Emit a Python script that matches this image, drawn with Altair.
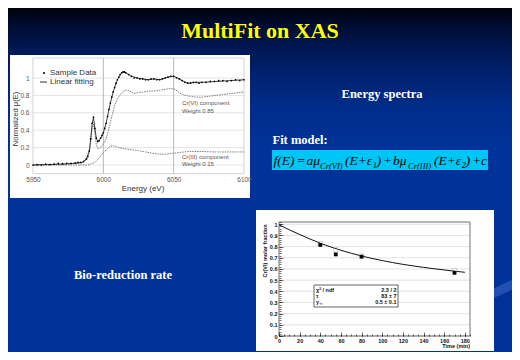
import altair as alt
import pandas as pd

OFF = 8
W, H = 504, 344


def px(v):
    return v - OFF


# ---------------- data: XAS energy spectra ----------------
xas_sample_E = [5950, 5953, 5956, 5959, 5962, 5965, 5968, 5971, 5974, 5977, 5980, 5982, 5984, 5986,
                5988, 5989, 5990, 5991, 5992, 5993, 5994, 5995, 5996, 5997, 5998, 5999, 6000, 6001,
                6002, 6003, 6004, 6005, 6006, 6007, 6008, 6009, 6010, 6011, 6012, 6013, 6014, 6015,
                6016, 6018, 6020, 6022, 6024, 6026, 6028, 6030, 6032, 6034, 6036, 6038, 6040, 6042,
                6044, 6046, 6048, 6050, 6052, 6054, 6056, 6058, 6060, 6062, 6064, 6066, 6068, 6070,
                6073, 6076, 6079, 6082, 6085, 6088, 6091, 6094, 6097, 6100]
xas_sample_mu = [0.0, 0.005, 0.0, 0.01, 0.005, 0.01, 0.02, 0.015, 0.02, 0.02, 0.025, 0.03, 0.03, 0.04,
                 0.07, 0.10, 0.16, 0.30, 0.48, 0.55, 0.42, 0.31, 0.27, 0.28, 0.31, 0.34, 0.37, 0.42,
                 0.48, 0.56, 0.64, 0.71, 0.78, 0.84, 0.89, 0.94, 0.98, 1.01, 1.04, 1.06, 1.07, 1.07,
                 1.06, 1.04, 1.02, 1.00, 1.00, 0.99, 0.99, 0.98, 0.98, 0.99, 0.99, 0.98, 0.98, 0.99,
                 1.00, 1.01, 1.02, 1.02, 1.00, 0.99, 0.97, 0.95, 0.94, 0.94, 0.95, 0.95, 0.94, 0.95,
                 0.95, 0.96, 0.96, 0.97, 0.97, 0.96, 0.97, 0.98, 0.97, 0.98]

xas_fit_E = [5950, 5960, 5970, 5980, 5985, 5988, 5990, 5991, 5992, 5993, 5994, 5995, 5996, 5998,
             6000, 6002, 6004, 6006, 6008, 6010, 6012, 6014, 6016, 6018, 6020, 6024, 6028, 6032,
             6036, 6040, 6044, 6048, 6050, 6053, 6056, 6060, 6065, 6070, 6080, 6090, 6100]
xas_fit_mu = [0.0, 0.005, 0.01, 0.02, 0.03, 0.07, 0.16, 0.30, 0.47, 0.54, 0.42, 0.31, 0.27, 0.30,
              0.37, 0.48, 0.64, 0.78, 0.89, 0.98, 1.04, 1.07, 1.06, 1.04, 1.02, 1.00, 0.99, 0.98,
              0.99, 0.98, 1.00, 1.02, 1.02, 1.00, 0.97, 0.94, 0.95, 0.95, 0.96, 0.97, 0.98]

xas_cr6_E = [5950, 5970, 5980, 5985, 5988, 5990, 5991, 5992, 5993, 5994, 5995, 5996, 5997, 5998,
             6000, 6002, 6004, 6006, 6008, 6010, 6012, 6014, 6016, 6018, 6020, 6022, 6024, 6028,
             6032, 6036, 6040, 6044, 6048, 6051, 6054, 6058, 6062, 6066, 6070, 6075, 6080, 6085,
             6090, 6095, 6100]
xas_cr6_mu = [0.0, 0.005, 0.015, 0.03, 0.06, 0.14, 0.26, 0.42, 0.47, 0.36, 0.24, 0.19, 0.19, 0.20,
              0.24, 0.30, 0.42, 0.56, 0.68, 0.76, 0.81, 0.84, 0.86, 0.86, 0.84, 0.82, 0.83, 0.84,
              0.85, 0.85, 0.86, 0.87, 0.88, 0.87, 0.83, 0.80, 0.79, 0.78, 0.78, 0.79, 0.80, 0.81,
              0.82, 0.83, 0.84]

xas_cr3_E = [5950, 5970, 5988, 5991, 5994, 5997, 6000, 6003, 6005, 6007, 6010, 6014, 6020, 6025,
             6030, 6035, 6040, 6045, 6050, 6055, 6060, 6070, 6080, 6090, 6100]
xas_cr3_mu = [0.0, 0.0, 0.0, 0.01, 0.03, 0.08, 0.14, 0.19, 0.215, 0.22, 0.205, 0.19, 0.175, 0.165,
              0.15, 0.135, 0.125, 0.125, 0.135, 0.145, 0.155, 0.155, 0.15, 0.15, 0.15]

xas_xticks = [5950, 6000, 6050, 6100]
xas_yticks = [0, 0.2, 0.4, 0.6, 0.8, 1]
xas_vgrid = [6000, 6050]

# ---------------- data: bio-reduction rate ----------------
bio_time = [40, 55, 80, 170]
bio_frac = [0.815, 0.73, 0.71, 0.565]
bio_frac_ref = [0.825, 0.77, 0.715, 0.585]
fit_time = [0, 10, 20, 30, 40, 50, 60, 70, 80, 90, 100, 110, 120, 130, 140, 150, 160, 170, 180]
fit_frac = [0.995, 0.950, 0.908, 0.868, 0.830, 0.797, 0.767, 0.740, 0.716, 0.694, 0.675, 0.657,
            0.641, 0.627, 0.614, 0.602, 0.591, 0.580, 0.570]
bio_xticks = [0, 20, 40, 60, 80, 100, 120, 140, 160, 180]
bio_yticks = [0, 0.1, 0.2, 0.3, 0.4, 0.5, 0.6, 0.7, 0.8, 0.9, 1]
bio_xminor = list(range(0, 186, 5))
bio_yminor = [round(i * 0.02, 2) for i in range(52)]

one = pd.DataFrame({"k": [0]})


def text(t, x, y, size, color="white", font="Liberation Serif", weight="normal",
         style="normal", align="left", baseline="middle", angle=0):
    return alt.Chart(one).mark_text(
        text=t, fontSize=size, color=color, font=font, fontWeight=weight,
        fontStyle=style, align=align, baseline=baseline, angle=angle
    ).encode(x=alt.value(px(x)), y=alt.value(px(y)))


def box(x1, y1, x2, y2, fill, stroke="", sw=0.0):
    kw = dict(fill=fill)
    if stroke:
        kw.update(stroke=stroke, strokeWidth=sw)
    return alt.Chart(one).mark_rect(**kw).encode(
        x=alt.value(px(x1)), x2=alt.value(px(x2)), y=alt.value(px(y1)), y2=alt.value(px(y2)))


def ax(orient, offset, values, labels=True, tick_size=0, **kw):
    d = dict(orient=orient, offset=offset, values=values, grid=False, domain=False,
             title="", labels=labels, labelOverlap=False, labelFlush=False, zindex=2)
    if tick_size > 0:
        d.update(ticks=True, tickSize=tick_size, tickColor="#111", tickWidth=0.6)
    else:
        d.update(ticks=False, tickSize=0)
    d.update(kw)
    return alt.Axis(**d)


layers = []

# ---------------- slide background ----------------
def stop(refy, color):
    return alt.GradientStop(offset=max(0.0, (refy - OFF) / H), color=color)

grad = alt.Gradient(gradient="linear", x1=0, y1=0, x2=0, y2=1, stops=[
    stop(8, "#00000a"), stop(22, "#000b2c"), stop(45, "#001650"),
    stop(75, "#00226f"), stop(110, "#002d8c"), stop(150, "#003399"), stop(352, "#003399")])
layers.append(alt.Chart(one).mark_rect(fill=grad).encode(
    x=alt.value(0), x2=alt.value(W), y=alt.value(0), y2=alt.value(H)))

# decorative light swoosh at the right edge
layers.append(alt.Chart(one).mark_rule(color="#2a57b8", strokeWidth=9, opacity=0.8, strokeCap="butt").encode(
    x=alt.value(px(492)), x2=alt.value(px(516)), y=alt.value(px(294)), y2=alt.value(px(283))))

# titles and captions
layers.append(text("MultiFit on XAS", 260, 31, 22, color="#ffff00", weight="bold", align="center"))
layers.append(text("Energy spectra", 382, 94, 12.5, weight="bold", align="center"))
layers.append(text("Fit model:", 272.5, 140, 12.5, weight="bold"))
layers.append(text("Bio-reduction rate", 123, 275, 12.5, weight="bold", align="center"))

# formula box
layers.append(box(272, 150, 488, 170, "#00c6f6"))
main_y, sub_y = 164.5, 168.5
formula = [("f(E)", 273.5, 0), ("=", 296.5, 0), ("aμ", 306.5, 0), ("Cr(VI)", 320, 1),
           ("(E+ε₁)", 345, 0), ("+", 383, 0), ("bμ", 393, 0), ("Cr(III)", 408, 1),
           ("(E+ε₂)", 434, 0), ("+c", 472, 0)]
for s, x, sub in formula:
    layers.append(text(s, x, sub_y if sub else main_y, 8.5 if sub else 13.5, color="#000",
                       style="italic", baseline="alphabetic"))

# ---------------- XAS panel ----------------
layers.append(box(10, 55, 250, 198, "white"))
xas_x = alt.Scale(domain=[5950, 6100], range=[px(33), px(244)], nice=False, zero=False)
xas_y = alt.Scale(domain=[-0.1, 1.23], range=[px(173.7), px(58)], nice=False, zero=False)
lab = dict(labelFont="Liberation Sans", labelFontSize=6.5, labelColor="#555")

layers.append(alt.Chart(pd.DataFrame({"v": xas_yticks})).mark_rule(color="#dadada", strokeWidth=0.7).encode(
    y=alt.Y("v:Q", scale=xas_y, axis=ax("left", -px(33), xas_yticks, labelExpr="'' + datum.value",
                                         labelPadding=4, **lab)),
    x=alt.XDatum(5950, type="quantitative", scale=xas_x,
                 axis=ax("bottom", px(173.7) - H, xas_xticks, format="d", labelPadding=3, **lab)),
    x2=alt.datum(6100)))
layers.append(alt.Chart(pd.DataFrame({"v": xas_vgrid})).mark_rule(color="#9a9a9a", strokeWidth=0.7).encode(
    x=alt.X("v:Q", scale=xas_x, axis=None),
    y=alt.YDatum(-0.1, type="quantitative", scale=xas_y, axis=None), y2=alt.datum(1.23)))
layers.append(alt.Chart(one).mark_rect(fillOpacity=0, stroke="#c8c8c8", strokeWidth=0.8).encode(
    x=alt.XDatum(5950, type="quantitative", scale=xas_x, axis=None), x2=alt.datum(6100),
    y=alt.YDatum(-0.1, type="quantitative", scale=xas_y, axis=None), y2=alt.datum(1.23)))


def xas_line(E, mu, color, width, dash=None):
    kw = dict(color=color, strokeWidth=width)
    if dash:
        kw["strokeDash"] = dash
    return alt.Chart(pd.DataFrame({"E": E, "mu": mu})).mark_line(**kw).encode(
        x=alt.X("E:Q", scale=xas_x, axis=None), y=alt.Y("mu:Q", scale=xas_y, axis=None))


layers.append(xas_line(xas_cr3_E, xas_cr3_mu, "#707070", 0.9, [1.5, 1]))
layers.append(xas_line(xas_cr6_E, xas_cr6_mu, "#707070", 0.9, [1.5, 1]))
layers.append(xas_line(xas_fit_E, xas_fit_mu, "#2a2a2a", 0.9))
layers.append(alt.Chart(pd.DataFrame({"E": xas_sample_E, "mu": xas_sample_mu})).mark_circle(
    size=3, color="#000", opacity=1).encode(
    x=alt.X("E:Q", scale=xas_x, axis=None), y=alt.Y("mu:Q", scale=xas_y, axis=None)))

# XAS legend, annotations, titles
layers.append(alt.Chart(one).mark_circle(size=4, color="#000", opacity=1).encode(
    x=alt.value(px(44)), y=alt.value(px(73))))
layers.append(alt.Chart(one).mark_rule(color="#333", strokeWidth=1).encode(
    x=alt.value(px(40)), x2=alt.value(px(47)), y=alt.value(px(82))))
layers.append(text("Sample Data", 50, 73, 8, color="#333", font="Liberation Sans"))
layers.append(text("Linear fitting", 50, 82, 8, color="#333", font="Liberation Sans"))
layers.append(text("Cr(VI) component", 182, 103, 6, color="#555", font="Liberation Sans"))
layers.append(text("Weight 0.85", 182, 111, 6, color="#555", font="Liberation Sans"))
layers.append(text("Cr(III) component", 182, 157, 6, color="#555", font="Liberation Sans"))
layers.append(text("Weight 0.15", 182, 164, 6, color="#555", font="Liberation Sans"))
layers.append(text("Energy (eV)", 143, 189, 8, color="#333", font="Liberation Sans", align="center"))
layers.append(text("Normalized μ(E)", 16, 119, 7.5, color="#333", font="Liberation Sans",
                   align="center", angle=270))

# ---------------- bio-reduction panel ----------------
layers.append(box(256, 210, 494, 351, "white"))
bio_x = alt.Scale(domain=[0, 185], range=[px(279), px(470)], nice=False, zero=False)
bio_y = alt.Scale(domain=[0, 1.02], range=[px(336), px(222)], nice=False, zero=False)
blab = dict(labelFont="Liberation Sans", labelFontSize=5.5, labelFontWeight="bold", labelColor="#111")

layers.append(alt.Chart(pd.DataFrame({"v": bio_yticks})).mark_rule(color="#cfcfcf", strokeWidth=0.6).encode(
    y=alt.Y("v:Q", scale=bio_y, axis=ax("left", -px(279), bio_yticks, labelExpr="'' + datum.value",
                                         labelPadding=2, **blab)),
    x=alt.XDatum(0, type="quantitative", scale=bio_x,
                 axis=ax("bottom", px(336) - H, bio_xticks, format="d", labelPadding=2, **blab)),
    x2=alt.datum(185)))
layers.append(alt.Chart(one).mark_rect(fillOpacity=0, stroke="#333", strokeWidth=0.7).encode(
    x=alt.XDatum(0, type="quantitative", scale=bio_x,
                 axis=ax("top", -px(336), bio_xticks, labels=False, tick_size=4)),
    x2=alt.datum(185),
    y=alt.YDatum(0, type="quantitative", scale=bio_y,
                 axis=ax("right", px(279) - W, bio_yticks, labels=False, tick_size=4)),
    y2=alt.datum(1.02)))
layers.append(alt.Chart(pd.DataFrame({"t": fit_time, "f": fit_frac})).mark_line(
    color="#111", strokeWidth=1).encode(
    x=alt.X("t:Q", scale=bio_x, axis=ax("top", -px(336), bio_xminor, labels=False, tick_size=2)),
    y=alt.Y("f:Q", scale=bio_y, axis=ax("right", px(279) - W, bio_yminor, labels=False, tick_size=2))))
layers.append(alt.Chart(pd.DataFrame({"t": bio_time, "f": bio_frac_ref})).mark_square(
    size=20, filled=False, color="#b0b0b0", strokeWidth=0.8).encode(
    x=alt.X("t:Q", scale=bio_x, axis=None), y=alt.Y("f:Q", scale=bio_y, axis=None)))
layers.append(alt.Chart(pd.DataFrame({"t": bio_time, "f": bio_frac})).mark_square(
    size=14, color="#000", opacity=1).encode(
    x=alt.X("t:Q", scale=bio_x, axis=None), y=alt.Y("f:Q", scale=bio_y, axis=None)))

# stats box
layers.append(box(314, 285, 398, 307, "white", stroke="#222", sw=0.7))
sb = dict(color="#111", font="Liberation Sans", weight="bold")
layers.append(text("χ² / ndf", 316, 289.5, 5.5, **sb))
layers.append(text("2.3 / 2", 396.5, 289.5, 5.5, align="right", **sb))
layers.append(text("τ", 316, 296, 5.5, **sb))
layers.append(text("83 ± 7", 396.5, 296, 5.5, align="right", **sb))
layers.append(text("y", 316, 302, 5.5, **sb))
layers.append(text("∞", 319.5, 303.5, 4, **sb))
layers.append(text("0.5 ± 0.1", 396.5, 302, 5.5, align="right", **sb))

layers.append(text("Cr(VI) molar fraction", 265, 251, 5.5, color="#111", font="Liberation Sans",
                   weight="bold", align="center", angle=270))
layers.append(text("Time (min)", 470, 346, 5.5, color="#111", font="Liberation Sans",
                   weight="bold", align="right"))

chart = alt.layer(*layers).resolve_scale(
    x="independent", y="independent"
).resolve_axis(
    x="independent", y="independent"
).properties(
    width=W, height=H, padding=0, autosize=alt.AutoSizeParams(type="none")
).configure_view(strokeWidth=0).configure(background="#003399")

chart.save("out.html", embed_options={"renderer": "svg", "actions": False})
